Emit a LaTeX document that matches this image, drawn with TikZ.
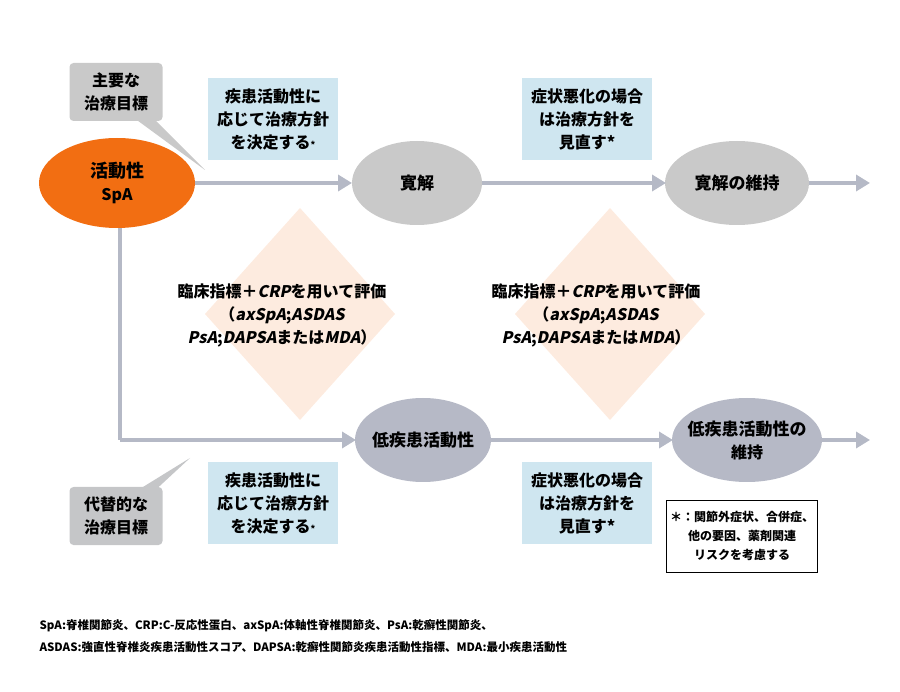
\documentclass[tikz,border=0pt]{standalone}
\usepackage{fontspec}
\setmainfont{Noto Sans CJK JP}
\newfontfamily\jpit{Noto Sans CJK JP}[FakeSlant=0.2]
\usetikzlibrary{arrows.meta}
\definecolor{org}{HTML}{F26E12}
\definecolor{gr}{HTML}{C9C9C9}
\definecolor{bg}{HTML}{B6B9C6}
\definecolor{bl}{HTML}{CFE6F0}
\definecolor{pe}{HTML}{FDEBDF}
\definecolor{ar}{HTML}{B5B9C6}
\begin{document}
\begin{tikzpicture}[x=1pt,y=-1pt,
  every node/.style={font=\fontsize{16}{23}\selectfont\bfseries,align=center},
  bluebox/.style={fill=bl,minimum width=130,minimum height=82},
  flow/.style={draw=ar,line width=3.5,-{Triangle[length=14,width=16]}},
  calloutbox/.style={rounded corners=4,minimum width=93,minimum height=58}]
\useasboundingbox (0,0) rectangle (900,692);
% diamonds
\fill[pe] (300,208) -- (395,314) -- (300,420) -- (205,314) -- cycle;
\fill[pe] (610,208) -- (705,314) -- (610,420) -- (515,314) -- cycle;
\node (d1) at (282,315) {臨床指標＋{\jpit CRP}を用いて評価\\（{\jpit axSpA};{\jpit ASDAS}\\{\jpit PsA};{\jpit DAPSA}または{\jpit MDA}）};
\node (d2) at (596,315) {臨床指標＋{\jpit CRP}を用いて評価\\（{\jpit axSpA};{\jpit ASDAS}\\{\jpit PsA};{\jpit DAPSA}または{\jpit MDA}）};
% callouts
\fill[gr] (130,115) -- (205,170) -- (150,115) -- cycle;
\node[calloutbox,fill=gr] (c1) at (116,92) {主要な\\治療目標};
\fill[gr!80!bg] (130,495) -- (190,458) -- (150,495) -- cycle;
\node[calloutbox,fill=gr!80!bg] (c2) at (116,516) {代替的な\\治療目標};
% ellipses
\fill[org] (117,183) ellipse [x radius=78,y radius=45];
\node (spa) at (117,183) {\fontsize{18}{25}\selectfont 活動性\\SpA};
\fill[gr] (417,183) ellipse [x radius=65,y radius=42];
\node (r) at (417,183) {\fontsize{17}{23}\selectfont 寛解};
\fill[gr] (737,183) ellipse [x radius=72,y radius=42];
\node (rm) at (737,183) {\fontsize{17}{23}\selectfont 寛解の維持};
\fill[bg] (423,440) ellipse [x radius=68,y radius=42];
\node (l) at (423,440) {\fontsize{17}{23}\selectfont 低疾患活動性};
\fill[bg] (747,440) ellipse [x radius=75,y radius=42];
\node (lm) at (747,440) {\fontsize{17}{25}\selectfont 低疾患活動性の\\維持};
\coordinate (e1) at (870,183);
\coordinate (e2) at (870,440);
\coordinate (corner) at (120,440);
% arrows
\draw[flow] (195,183) -- (352,183);
\draw[flow] (482,183) -- (666,183);
\draw[flow] (809,183) -- (e1);
\draw[draw=ar,line width=3.5] (120,228) -- (corner);
\draw[flow] (corner) -- (356,440);
\draw[flow] (491,440) -- (673,440);
\draw[flow] (822,440) -- (e2);
% blue boxes
\node[bluebox] (b1) at (273,119) {疾患活動性に\\応じて治療方針\\を決定する{\small *}};
\node[bluebox] (b2) at (587,119) {症状悪化の場合\\は治療方針を\\見直す*};
\node[bluebox] (b3) at (273,503) {疾患活動性に\\応じて治療方針\\を決定する{\small *}};
\node[bluebox] (b4) at (587,503) {症状悪化の場合\\は治療方針を\\見直す*};
% note
\node[draw=black,line width=0.8,minimum width=149,minimum height=72,font=\fontsize{12}{19}\selectfont\bfseries] (note) at (742,536) {＊：関節外症状、合併症、\\他の要因、薬剤関連\\リスクを考慮する};
% footnote
\node[anchor=west,align=left,font=\fontsize{11.5}{22}\selectfont\bfseries] (fn) at (36,636) {SpA:脊椎関節炎、CRP:C-反応性蛋白、axSpA:体軸性脊椎関節炎、PsA:乾癬性関節炎、\\ASDAS:強直性脊椎炎疾患活動性スコア、DAPSA:乾癬性関節炎疾患活動性指標、MDA:最小疾患活動性};
\end{tikzpicture}
\end{document}
